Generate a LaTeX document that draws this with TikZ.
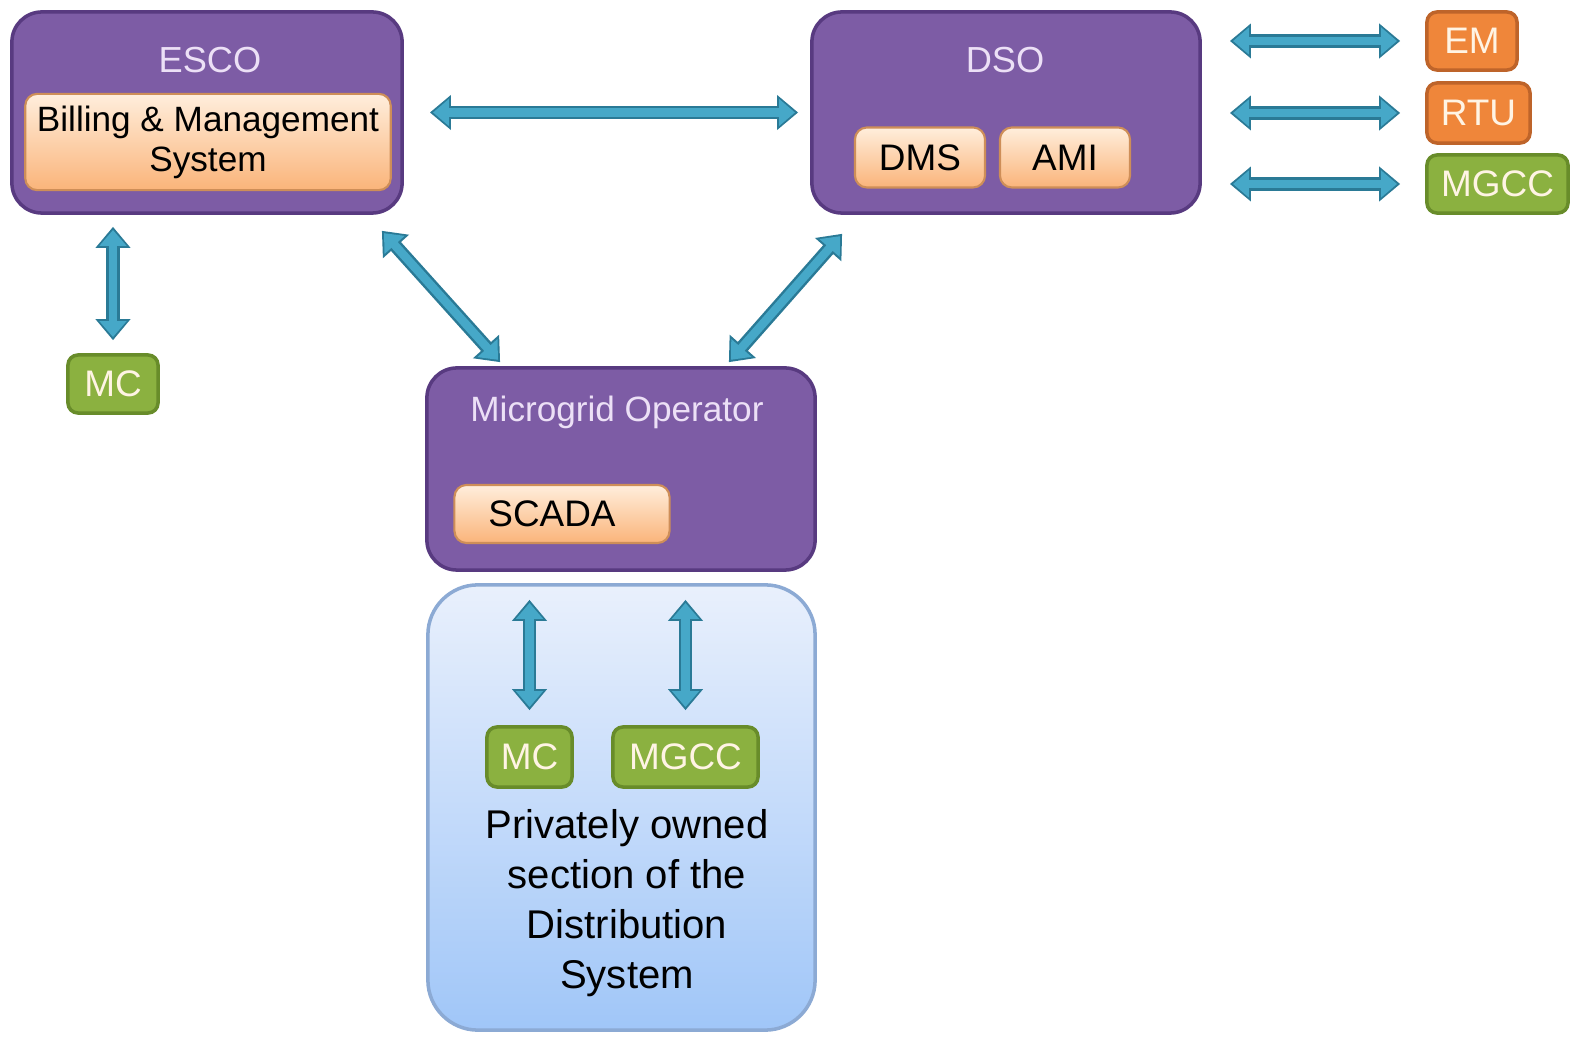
\documentclass[tikz,border=0pt]{standalone}
\usepackage{fontspec}
\setmainfont{Liberation Sans}
\usetikzlibrary{arrows.meta,calc}

\definecolor{groupfill}{RGB}{125,92,165}
\definecolor{groupedge}{RGB}{88,58,128}
\definecolor{grouptext}{RGB}{236,224,246}
\definecolor{softtop}{RGB}{255,238,220}
\definecolor{softbottom}{RGB}{250,180,122}
\definecolor{softedge}{RGB}{206,142,88}
\definecolor{orangefill}{RGB}{239,134,58}
\definecolor{orangeedge}{RGB}{190,100,42}
\definecolor{greenfill}{RGB}{139,177,64}
\definecolor{greenedge}{RGB}{104,140,42}
\definecolor{tagtext}{RGB}{255,244,228}
\definecolor{privtop}{RGB}{233,240,252}
\definecolor{privbottom}{RGB}{160,198,248}
\definecolor{privedge}{RGB}{140,170,212}
\definecolor{arrowfill}{RGB}{70,168,200}
\definecolor{arrowedge}{RGB}{42,122,150}

\tikzset{
  group/.style={draw=groupedge, line width=1pt, fill=groupfill, rounded corners=0.3cm},
  private/.style={draw=privedge, line width=1pt, top color=privtop, bottom color=privbottom, rounded corners=0.5cm},
  grouptitle/.style={text=grouptext, font=\fontsize{10.3}{12}\selectfont},
  unit/.style={draw=softedge, line width=0.6pt, top color=softtop, bottom color=softbottom, rounded corners=0.12cm, font=\fontsize{10.5}{12}\selectfont},
  tag/.style={draw=#1edge, line width=1pt, fill=#1fill, text=tagtext, rounded corners=0.1cm, font=\fontsize{10.5}{12}\selectfont, minimum height=0.58cm},
  link/.style 2 args={draw=arrowedge, line width=3.8pt,
    arrows={Triangle[width=9.6pt,length=6pt]-Triangle[width=9.6pt,length=6pt]},
    shorten <=#1, shorten >=#2,
    postaction={draw=arrowfill, line width=2.4pt,
      arrows={Triangle[width=7.4pt,length=4.5pt]-Triangle[width=7.4pt,length=4.5pt]},
      shorten <=#1+0.9pt, shorten >=#2+0.9pt}}
}

\begin{document}
\begin{tikzpicture}[x=0.01cm, y=-0.01cm]
  \useasboundingbox (0,0) rectangle (1593,1046);

  % Groups
  \node[group, minimum width=3.9cm, minimum height=2.01cm] (esco) at (207,112.5) {};
  \node[group, minimum width=3.88cm, minimum height=2.01cm] (dso) at (1006,112.5) {};
  \node[group, minimum width=3.88cm, minimum height=2.02cm] (mgo) at (621,469) {};
  \node[private, minimum width=3.87cm, minimum height=4.45cm] (priv) at (621.5,807.5) {};

  % Titles
  \node[grouptitle] (escotitle) at (210,60) {ESCO};
  \node[grouptitle] (dsotitle) at (1005,60) {DSO};
  \node[grouptitle, font=\fontsize{10}{12}\selectfont] (mgotitle) at (617,412) {Microgrid Operator};

  % Units inside the groups
  \node[unit, minimum width=3.6cm, minimum height=0.9cm, align=center,
        font=\fontsize{10}{11.4}\selectfont] (bms) at (208,142) {Billing \& Management\\System};
  \node[unit, minimum width=1.3cm, minimum height=0.6cm] (dms) at (920,157.5) {DMS};
  \node[unit, minimum width=1.3cm, minimum height=0.6cm] (ami) at (1065,157.5) {AMI};
  \node[unit, minimum width=2.15cm, minimum height=0.58cm] (scada) at (562,514) {\hspace*{-0.2cm}SCADA};

  % Field devices
  \node[tag=orange, minimum width=0.9cm] (em) at (1472,41) {EM};
  \node[tag=orange, minimum width=1.03cm, minimum height=0.6cm] (rtu) at (1478.5,113) {RTU};
  \node[tag=green, minimum width=1.41cm] (mgcc) at (1497.5,184) {MGCC};
  \node[tag=green, minimum width=0.9cm] (mc) at (113,384) {MC};
  \node[tag=green, minimum width=0.85cm, minimum height=0.6cm] (mcpriv) at (529.5,757) {MC};
  \node[tag=green, minimum width=1.45cm, minimum height=0.6cm] (mgccpriv) at (685.5,757) {MGCC};

  \node[align=center, font=\fontsize{11.4}{14.2}\selectfont] (privtext) at (627,903)
    {Privately owned\\section of the\\Distribution\\System};

  % Links
  \draw[link={0.26cm}{0.12cm}] (esco) -- (dso);
  \foreach \t in {em,rtu,mgcc}
    \draw[link={0.28cm}{0.25cm}] (dso.east |- \t) -- (\t);
  \draw[link={0.12cm}{0.13cm}] (esco.south -| mc) -- (mc);
  \draw[link={0pt}{0pt}] ($(esco.south east)+(-22,16)$) -- ($(mgo.north west)+(75,-4)$);
  \draw[link={0pt}{0pt}] ($(dso.south west)+(32,19)$) -- ($(mgo.north east)+(-88,-4)$);
  \foreach \t in {mcpriv,mgccpriv}
    \draw[link={0.28cm}{0.15cm}] (mgo.south -| \t) -- (\t);
\end{tikzpicture}
\end{document}
